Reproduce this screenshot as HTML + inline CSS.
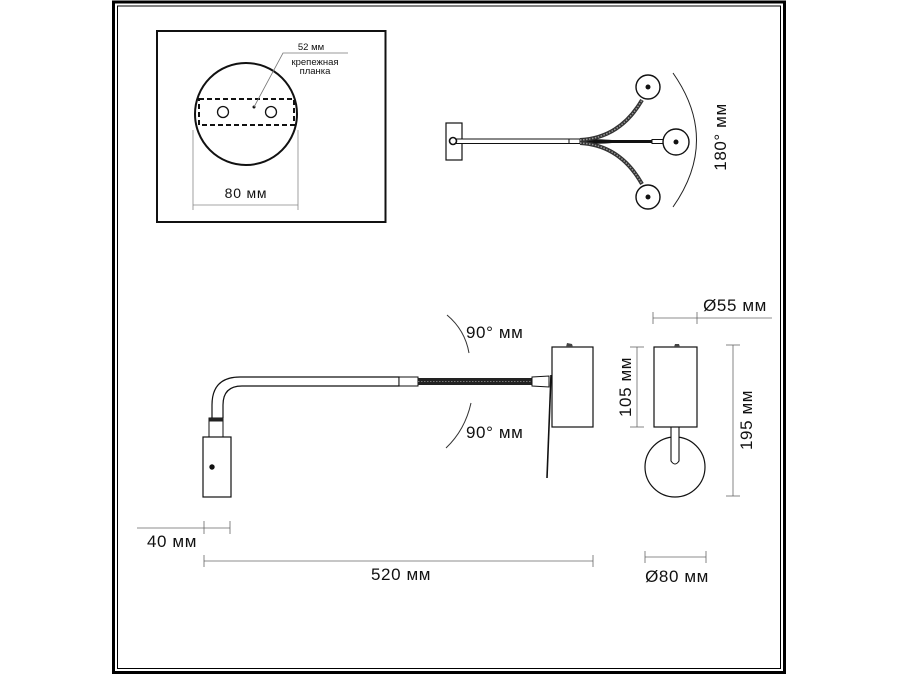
<!DOCTYPE html>
<html><head><meta charset="utf-8"><style>
html,body{margin:0;padding:0;background:#fff;}
svg{display:block;}
text{font-family:"Liberation Sans","DejaVu Sans",sans-serif;fill:#111;}
.b{font-size:17px;letter-spacing:0.6px;}
</style></head><body>
<svg width="900" height="675" viewBox="0 0 900 675" xmlns="http://www.w3.org/2000/svg">
<rect x="0" y="0" width="900" height="675" fill="#fff"/>
<rect x="113.5" y="2" width="671" height="670.5" fill="none" stroke="#000" stroke-width="3"/>
<rect x="117.5" y="6" width="663" height="662.5" fill="none" stroke="#000" stroke-width="1"/>

<rect x="157" y="31" width="228.5" height="191" fill="none" stroke="#111" stroke-width="2"/>
<circle cx="246" cy="114" r="51" fill="none" stroke="#111" stroke-width="2"/>
<rect x="199" y="99" width="95" height="26" fill="none" stroke="#111" stroke-width="2" stroke-dasharray="5,3"/>
<circle cx="223" cy="112" r="5.5" fill="none" stroke="#111" stroke-width="1.3"/>
<circle cx="271" cy="112" r="5.5" fill="none" stroke="#111" stroke-width="1.3"/>
<circle cx="254" cy="107" r="1.5" fill="#111"/>
<polyline points="254,107 283,53 348,53" fill="none" stroke="#777" stroke-width="0.8"/>
<text x="311" y="50" font-size="9.5" text-anchor="middle">52 мм</text>
<text x="315" y="65" font-size="9.5" text-anchor="middle">крепежная</text>
<text x="315" y="74" font-size="9.5" text-anchor="middle">планка</text>
<line x1="193" y1="130" x2="193" y2="210" stroke="#888" stroke-width="0.8"/>
<line x1="298" y1="130" x2="298" y2="210" stroke="#888" stroke-width="0.8"/>
<line x1="193" y1="205" x2="298" y2="205" stroke="#888" stroke-width="0.8"/>
<text x="246" y="198" font-size="14" letter-spacing="0.8" text-anchor="middle">80 мм</text>

<rect x="446" y="123" width="16" height="37" fill="#fff" stroke="#111" stroke-width="1.2"/>
<rect x="452" y="139" width="117" height="4.5" fill="#fff" stroke="#111" stroke-width="1"/>
<circle cx="453" cy="141" r="3.5" fill="#fff" stroke="#111" stroke-width="1.6"/>
<rect x="569" y="139" width="11" height="4.5" fill="#fff" stroke="#111" stroke-width="1"/>
<path d="M580,139 Q600,139 612,140 L652,140 L652,143 L612,143 Q600,144 580,144 Z" fill="#111"/>
<path d="M580,140 Q620,138 642,100" fill="none" stroke="#333" stroke-width="4"/>
<path d="M580,140 Q620,138 642,100" fill="none" stroke="#999" stroke-width="1.5" stroke-dasharray="1.5,1.5"/>
<path d="M580,143 Q620,145 642,184" fill="none" stroke="#333" stroke-width="4"/>
<path d="M580,143 Q620,145 642,184" fill="none" stroke="#999" stroke-width="1.5" stroke-dasharray="1.5,1.5"/>
<rect x="652" y="139.5" width="12" height="4" fill="#fff" stroke="#111" stroke-width="1"/>
<circle cx="648" cy="87" r="12" fill="#fff" stroke="#111" stroke-width="1.4"/>
<circle cx="648" cy="87" r="2.5" fill="#111"/>
<circle cx="676" cy="142" r="13" fill="#fff" stroke="#111" stroke-width="1.4"/>
<circle cx="676" cy="142" r="2.5" fill="#111"/>
<circle cx="648" cy="197" r="12" fill="#fff" stroke="#111" stroke-width="1.4"/>
<circle cx="648" cy="197" r="2.5" fill="#111"/>
<path d="M673,73 Q720,140 673,207" fill="none" stroke="#222" stroke-width="1"/>
<text class="b" x="0" y="0" text-anchor="middle" transform="translate(726,137) rotate(-90)">180° мм</text>

<path d="M212,418 L212,405 Q212,377 240,377 L399,377 L399,386 L242,386 Q223,386 223,405 L223,418" fill="#fff" stroke="#111" stroke-width="1.2"/>
<rect x="399" y="377" width="19" height="9" fill="#fff" stroke="#111" stroke-width="1"/>
<rect x="418" y="378" width="114" height="7" fill="#222"/>
<line x1="418" y1="381.5" x2="532" y2="381.5" stroke="#777" stroke-width="1" stroke-dasharray="1.5,1.5"/>
<path d="M532,377 L549,376 L549,387 L532,386 Z" fill="#fff" stroke="#111" stroke-width="1"/>
<line x1="551" y1="375" x2="547" y2="478" stroke="#111" stroke-width="1.6"/>
<rect x="552" y="347" width="41" height="80" fill="#fff" stroke="#111" stroke-width="1.2"/>
<path d="M566,347 L567,343 L572,344 L573,347" fill="#444"/>
<rect x="209" y="418" width="14" height="19" fill="#fff" stroke="#111" stroke-width="1"/>
<rect x="209" y="418" width="14" height="3.5" fill="#222"/>
<rect x="203" y="437" width="28" height="60" fill="#fff" stroke="#111" stroke-width="1.2"/>
<circle cx="212" cy="467" r="2.7" fill="#111"/>
<path d="M447,315 Q465,330 469,353" fill="none" stroke="#333" stroke-width="1"/>
<path d="M471,403 Q465,430 446,448" fill="none" stroke="#333" stroke-width="1"/>
<text class="b" x="466" y="338">90° мм</text>
<text class="b" x="466" y="438">90° мм</text>

<line x1="137" y1="528" x2="230" y2="528" stroke="#666" stroke-width="0.8"/>
<line x1="204" y1="521" x2="204" y2="534" stroke="#666" stroke-width="0.8"/>
<line x1="230" y1="521" x2="230" y2="534" stroke="#666" stroke-width="0.8"/>
<text class="b" x="172" y="547" text-anchor="middle">40 мм</text>
<line x1="204" y1="561" x2="593" y2="561" stroke="#666" stroke-width="0.8"/>
<line x1="204" y1="555" x2="204" y2="567" stroke="#666" stroke-width="0.8"/>
<line x1="593" y1="555" x2="593" y2="567" stroke="#666" stroke-width="0.8"/>
<text class="b" x="401" y="580" text-anchor="middle">520 мм</text>

<line x1="653" y1="318" x2="772" y2="318" stroke="#666" stroke-width="0.8"/>
<line x1="653" y1="312" x2="653" y2="324" stroke="#666" stroke-width="0.8"/>
<line x1="697" y1="312" x2="697" y2="324" stroke="#666" stroke-width="0.8"/>
<text class="b" x="735" y="311" text-anchor="middle">Ø55 мм</text>
<circle cx="675" cy="467" r="30" fill="#fff" stroke="#111" stroke-width="1.2"/>
<path d="M671,427 L671,461 Q675,467 679,461 L679,427" fill="#fff" stroke="#111" stroke-width="1.1"/>
<rect x="654" y="347" width="43" height="80" fill="#fff" stroke="#111" stroke-width="1.2"/>
<path d="M674,347 L675,344 L679,344 L680,347" fill="#444"/>
<line x1="637" y1="347" x2="637" y2="427" stroke="#666" stroke-width="0.8"/>
<line x1="630" y1="347" x2="644" y2="347" stroke="#666" stroke-width="0.8"/>
<line x1="630" y1="427" x2="644" y2="427" stroke="#666" stroke-width="0.8"/>
<text class="b" x="0" y="0" text-anchor="middle" transform="translate(631,387) rotate(-90)">105 мм</text>
<line x1="733" y1="345" x2="733" y2="496" stroke="#666" stroke-width="0.8"/>
<line x1="726" y1="345" x2="740" y2="345" stroke="#666" stroke-width="0.8"/>
<line x1="726" y1="496" x2="740" y2="496" stroke="#666" stroke-width="0.8"/>
<text class="b" x="0" y="0" text-anchor="middle" transform="translate(752,420) rotate(-90)">195 мм</text>
<line x1="645" y1="557" x2="706" y2="557" stroke="#666" stroke-width="0.8"/>
<line x1="645" y1="551" x2="645" y2="563" stroke="#666" stroke-width="0.8"/>
<line x1="706" y1="551" x2="706" y2="563" stroke="#666" stroke-width="0.8"/>
<text class="b" x="677" y="582" text-anchor="middle">Ø80 мм</text>
</svg>
</body></html>
